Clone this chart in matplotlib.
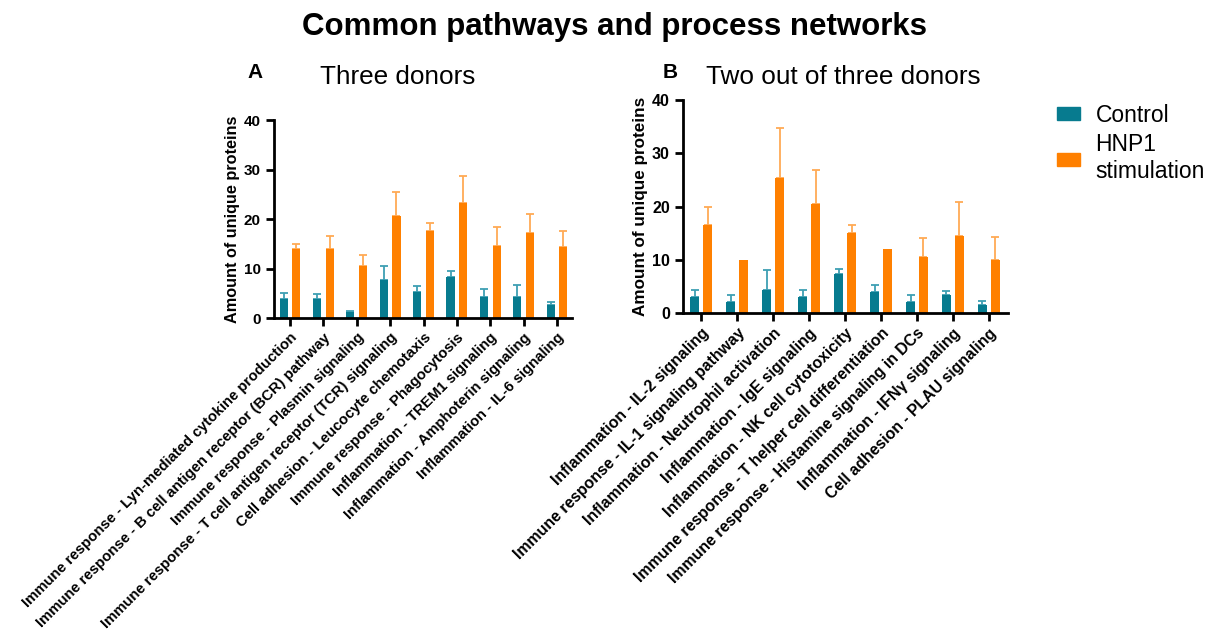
import matplotlib
matplotlib.use("Agg")
import matplotlib.pyplot as plt
from matplotlib.patches import Patch
import numpy as np

plt.rcParams['font.family'] = ['Liberation Sans', 'DejaVu Sans']

cats_a = ["Immune response - Lyn-mediated cytokine production",
          "Immune response - B cell antigen receptor (BCR) pathway",
          "Immune response - Plasmin signaling",
          "Immune response - T cell antigen receptor (TCR) signaling",
          "Cell adhesion - Leucocyte chemotaxis",
          "Immune response - Phagocytosis",
          "Inflammation - TREM1 signaling",
          "Inflammation - Amphoterin signaling",
          "Inflammation - IL-6 signaling"]
ctrl_a = [3.9, 3.9, 1.2, 7.6, 5.2, 8.2, 4.2, 4.2, 2.6]
ctrl_a_err = [1.1, 1.0, 0.3, 2.9, 1.2, 1.4, 1.7, 2.4, 0.7]
hnp_a = [13.9, 13.9, 10.6, 20.6, 17.6, 23.3, 14.6, 17.2, 14.3]
hnp_a_err = [1.0, 2.6, 2.1, 4.8, 1.5, 5.3, 3.7, 3.9, 3.3]

cats_b = ["Inflammation - IL-2 signaling",
          "Immune response - IL-1 signaling pathway",
          "Inflammation - Neutrophil activation",
          "Inflammation - IgE signaling",
          "Inflammation - NK cell cytotoxicity",
          "Immune response - T helper cell differentiation",
          "Immune response - Histamine signaling in DCs",
          "Inflammation - IFN\u03b3 signaling",
          "Cell adhesion - PLAU signaling"]
ctrl_b = [3.0, 2.0, 4.4, 3.0, 7.4, 3.9, 2.0, 3.4, 1.5]
ctrl_b_err = [1.4, 1.4, 3.6, 1.4, 0.8, 1.4, 1.4, 0.8, 0.7]
hnp_b = [16.5, 10.0, 25.4, 20.5, 15.0, 12.0, 10.5, 14.5, 10.0]
hnp_b_err = [3.5, 0.0, 9.3, 6.3, 1.5, 0.0, 3.5, 6.3, 4.3]

yticks = [0, 10, 20, 30, 40]

TEAL = "#077b8f"
TEAL_E = "#3e9fb3"
ORANGE = "#ff8000"
ORANGE_E = "#ffaa55"

fig = plt.figure(figsize=(12.15, 6.32), dpi=100)

def panel(rect, cats, c, ce, h, he, off, xl, fx, fy, fl):
    ax = fig.add_axes(rect)
    x = np.arange(len(cats))
    w = 0.245
    ax.bar(x - off, c, w, color=TEAL, zorder=2)
    ax.bar(x + off, h, w, color=ORANGE, zorder=2)
    ax.errorbar(x - off, c, yerr=[np.zeros(len(c)), ce], fmt='none',
                ecolor=TEAL_E, elinewidth=1.3, capsize=3, capthick=1.3, zorder=1)
    he_arr = np.array(he)
    mask = he_arr > 0
    ax.errorbar((x + off)[mask], np.array(h)[mask],
                yerr=[np.zeros(mask.sum()), he_arr[mask]], fmt='none',
                ecolor=ORANGE_E, elinewidth=1.3, capsize=3, capthick=1.3, zorder=1)
    ax.set_ylim(0, 40)
    ax.set_xlim(*xl)
    ax.set_yticks(yticks)
    ax.set_yticklabels([str(t) for t in yticks], fontsize=fy, fontweight='bold')
    ax.set_xticks(x)
    ax.set_xticklabels(cats, rotation=45, ha='right', rotation_mode='anchor',
                       fontsize=fx, fontweight='bold')
    for s in ['top', 'right']:
        ax.spines[s].set_visible(False)
    for s in ['left', 'bottom']:
        ax.spines[s].set_linewidth(2)
    ax.tick_params(axis='both', width=2, length=6, direction='out')
    ax.tick_params(axis='x', pad=3)
    ax.set_ylabel("Amount of unique proteins", fontsize=fl, fontweight='bold', labelpad=3)
    return ax

axA = panel([0.2255, 0.4968, 0.2453, 0.3133], cats_a, ctrl_a, ctrl_a_err,
            hnp_a, hnp_a_err, 0.19, (-0.48, 8.45), 10.7, 11, 11.7)
axB = panel([0.5621, 0.5047, 0.2675, 0.3370], cats_b, ctrl_b, ctrl_b_err,
            hnp_b, hnp_b_err, 0.18, (-0.51, 8.53), 11.4, 11.5, 12.3)

fig.text(0.506, 0.958, "Common pathways and process networks", ha='center', va='center',
         fontsize=22.5, fontweight='bold')
fig.text(320/1215, 1 - 77/632, "Three donors", ha='left', va='center', fontsize=18.8)
fig.text(255/1215, 1 - 72/632, "A", ha='center', va='center', fontsize=15, fontweight='bold')
fig.text(670/1215, 1 - 72/632, "B", ha='center', va='center', fontsize=15, fontweight='bold')
fig.text(706/1215, 1 - 77/632, "Two out of three donors", ha='left', va='center', fontsize=18.8)

handles = [Patch(color=TEAL), Patch(color=ORANGE)]
fig.legend(handles, ["Control", "HNP1\nstimulation"], loc='upper left',
           bbox_to_anchor=(1052/1215, 1 - 99/632), frameon=False, fontsize=16.5,
           handlelength=1.0, handleheight=0.5, handletextpad=0.7, labelspacing=0.3,
           borderaxespad=0, borderpad=0.2)

fig.savefig("out.png", dpi=100)
